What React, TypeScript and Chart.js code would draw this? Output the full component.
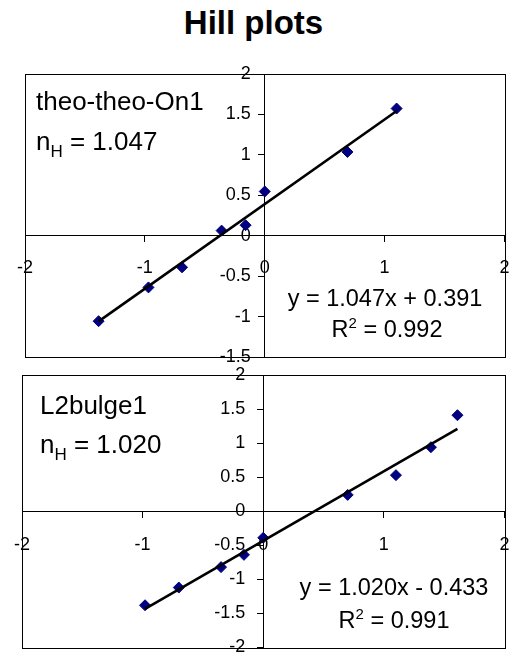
import React, { useEffect, useRef } from 'react';
import { Chart, registerables } from 'chart.js';

Chart.register(...registerables);

const FONT = "'Liberation Sans', Arial, sans-serif";

const TITLE = 'Hill plots';

// Panel 1: theo-theo-On1
const P1_NAME = 'theo-theo-On1';
const P1_NH = '1.047';
const P1_X = [-1.386, -0.97, -0.69, -0.36, -0.16, 0.0, 0.69, 1.1];
const P1_Y = [-1.057, -0.639, -0.391, 0.063, 0.13, 0.547, 1.036, 1.573];
const P1_SLOPE = 1.047;
const P1_INTERCEPT = 0.391;
const P1_EQ = 'y = 1.047x + 0.391';
const P1_R2 = '0.992';
const P1_X_RANGE = [-2, 2];
const P1_Y_RANGE = [-1.5, 2];

// Panel 2: L2bulge1
const P2_NAME = 'L2bulge1';
const P2_NH = '1.020';
const P2_X = [-0.98, -0.7, -0.35, -0.16, 0.0, 0.7, 1.1, 1.39, 1.61];
const P2_Y = [-1.38, -1.12, -0.82, -0.64, -0.39, 0.24, 0.53, 0.94, 1.41];
const P2_SLOPE = 1.02;
const P2_INTERCEPT = -0.433;
const P2_EQ = 'y = 1.020x - 0.433';
const P2_R2 = '0.991';
const P2_X_RANGE = [-2, 2];
const P2_Y_RANGE = [-2, 2];

const X_STEP = 1;
const Y_STEP = 0.5;

type Seg = { text: string; size: number; dy?: number };
type Rich = { segs: Seg[]; x: number; y: number; align: 'left' | 'center' };

function drawRich(ctx: CanvasRenderingContext2D, r: Rich) {
  let total = 0;
  for (const s of r.segs) {
    ctx.font = `${s.size}px ${FONT}`;
    total += ctx.measureText(s.text).width;
  }
  let x = r.align === 'center' ? r.x - total / 2 : r.x;
  ctx.textAlign = 'left';
  ctx.textBaseline = 'alphabetic';
  ctx.fillStyle = '#000';
  for (const s of r.segs) {
    ctx.font = `${s.size}px ${FONT}`;
    ctx.fillText(s.text, x, r.y + (s.dy || 0));
    x += ctx.measureText(s.text).width;
  }
}

const framePlugin = {
  id: 'frameAndNotes',
  afterDraw(chart: any, _args: any, opts: any) {
    const { ctx, chartArea } = chart;
    ctx.save();
    ctx.strokeStyle = '#000';
    ctx.lineWidth = 1;
    ctx.strokeRect(
      Math.round(chartArea.left) + 0.5,
      Math.round(chartArea.top) + 0.5,
      Math.round(chartArea.right - chartArea.left),
      Math.round(chartArea.bottom - chartArea.top)
    );
    const notes: Rich[] = (opts && opts.notes) || [];
    for (const n of notes) drawRich(ctx, n);
    ctx.restore();
  },
};

function zeroPad(scale: any) {
  scale.paddingLeft = 0;
  scale.paddingRight = 0;
  scale.paddingTop = 0;
  scale.paddingBottom = 0;
}

function makeConfig(
  xs: number[],
  ys: number[],
  slope: number,
  intercept: number,
  xRange: number[],
  yRange: number[],
  padding: any,
  xLabelPad: number,
  yLabelGap: string,
  notes: Rich[]
) {
  const pts = xs.map((x, i) => ({ x, y: ys[i] }));
  const xmin = Math.min(...xs);
  const xmax = Math.max(...xs);
  const trend = [
    { x: xmin, y: slope * xmin + intercept },
    { x: xmax, y: slope * xmax + intercept },
  ];
  const tickFont = { family: FONT, size: 18 };
  return {
    type: 'scatter',
    data: {
      datasets: [
        {
          data: trend,
          showLine: true,
          borderColor: '#000',
          borderWidth: 2.6,
          pointRadius: 0,
          fill: false,
          order: 0,
        },
        {
          data: pts,
          pointStyle: 'rectRot',
          pointRadius: 5.5,
          backgroundColor: '#000080',
          borderColor: '#000080',
          borderWidth: 1,
          showLine: false,
          order: 1,
        },
      ],
    },
    options: {
      responsive: false,
      animation: false,
      layout: { padding },
      plugins: {
        legend: { display: false },
        tooltip: { enabled: false },
        frameAndNotes: { notes },
      },
      scales: {
        x: {
          type: 'linear',
          min: xRange[0],
          max: xRange[1],
          position: { y: 0 },
          afterFit: zeroPad,
          ticks: {
            stepSize: X_STEP,
            font: tickFont,
            color: '#000',
            padding: xLabelPad,
            maxRotation: 0,
            autoSkip: false,
            callback: (v: any) => String(v),
          },
          grid: {
            display: true,
            drawOnChartArea: false,
            drawTicks: true,
            tickLength: 6,
            color: '#000',
          },
          border: { display: true, color: '#000', width: 1 },
        },
        y: {
          type: 'linear',
          min: yRange[0],
          max: yRange[1],
          position: { x: 0 },
          afterFit: zeroPad,
          ticks: {
            stepSize: Y_STEP,
            font: tickFont,
            color: '#000',
            padding: 8,
            autoSkip: false,
            callback: (v: any) => String(v) + yLabelGap,
          },
          grid: {
            display: true,
            drawOnChartArea: false,
            drawTicks: true,
            tickLength: 6,
            color: '#000',
          },
          border: { display: true, color: '#000', width: 1 },
        },
      },
    },
    plugins: [framePlugin],
  } as any;
}

function Panel(props: { top: number; height: number; config: any }) {
  const ref = useRef<HTMLCanvasElement>(null);
  useEffect(() => {
    if (!ref.current) return;
    const chart = new Chart(ref.current, props.config);
    return () => chart.destroy();
  }, []);
  return (
    <canvas
      ref={ref}
      width={511}
      height={props.height}
      style={{ position: 'absolute', left: 0, top: props.top, width: 511, height: props.height }}
    />
  );
}

export default function App() {
  const notes1: Rich[] = [
    { segs: [{ text: P1_NAME, size: 26 }], x: 36, y: 110, align: 'left' },
    {
      segs: [
        { text: 'n', size: 26 },
        { text: 'H', size: 17, dy: 7 },
        { text: ' = ' + P1_NH, size: 26 },
      ],
      x: 36,
      y: 150,
      align: 'left',
    },
    { segs: [{ text: P1_EQ, size: 23.5 }], x: 385, y: 306, align: 'center' },
    {
      segs: [
        { text: 'R', size: 23.5 },
        { text: '2', size: 15, dy: -9 },
        { text: ' = ' + P1_R2, size: 23.5 },
      ],
      x: 387,
      y: 337,
      align: 'center',
    },
  ];
  // bottom canvas starts at y=360
  const off = 360;
  const notes2: Rich[] = [
    { segs: [{ text: P2_NAME, size: 26 }], x: 40, y: 414 - off, align: 'left' },
    {
      segs: [
        { text: 'n', size: 26 },
        { text: 'H', size: 17, dy: 7 },
        { text: ' = ' + P2_NH, size: 26 },
      ],
      x: 40,
      y: 453 - off,
      align: 'left',
    },
    { segs: [{ text: P2_EQ, size: 23.5 }], x: 394, y: 595 - off, align: 'center' },
    {
      segs: [
        { text: 'R', size: 23.5 },
        { text: '2', size: 15, dy: -9 },
        { text: ' = ' + P2_R2, size: 23.5 },
      ],
      x: 394,
      y: 628 - off,
      align: 'center',
    },
  ];

  const cfg1 = makeConfig(
    P1_X, P1_Y, P1_SLOPE, P1_INTERCEPT, P1_X_RANGE, P1_Y_RANGE,
    { left: 25, right: 5, top: 74, bottom: 13 }, 16, '\u2002 ', notes1
  );
  const cfg2 = makeConfig(
    P2_X, P2_Y, P2_SLOPE, P2_INTERCEPT, P2_X_RANGE, P2_Y_RANGE,
    { left: 22, right: 2, top: 15, bottom: 5 }, 17, '\u2002\u2002', notes2
  );

  return (
    <div style={{ position: 'absolute', left: 0, top: 0, width: 511, height: 654, background: '#fff', overflow: 'hidden' }}>
      <div
        style={{
          position: 'absolute',
          left: 0,
          top: 3,
          width: 507,
          textAlign: 'center',
          fontFamily: FONT,
          fontWeight: 'bold',
          fontSize: 33,
          lineHeight: '40px',
          color: '#000',
        }}
      >
        {TITLE}
      </div>
      <Panel top={0} height={370} config={cfg1} />
      <Panel top={360} height={294} config={cfg2} />
    </div>
  );
}
